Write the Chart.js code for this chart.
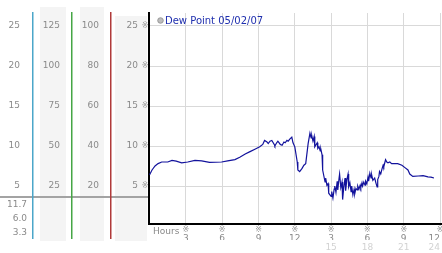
<!DOCTYPE html>
<html lang="en">
<head>
<meta charset="UTF-8" />
<title>Dew Point 05/02/07</title>
<script src="https://cdn.jsdelivr.net/npm/chart.js"></script>
<style>
  html, body { margin: 0; padding: 0; background: #fff; }
  #wrap { width: 442px; height: 253px; }
</style>
</head>
<body>
<div id="wrap"><canvas id="dewChart" width="442" height="253"></canvas></div>
<script>
  // readings (hour of day, dew point)
  const hours = [0.0,0.2,0.45,0.7,1.0,1.5,1.85,2.2,2.65,3.15,3.75,4.3,4.95,5.95,6.45,7.05,7.45,7.9,8.3,8.7,
    9.1,9.35,9.5,9.7,9.8,9.95,10.1,10.3,10.35,10.5,10.6,10.8,10.95,11.1,11.2,11.35,11.45,11.6,11.75,11.85,
    12.0,12.2,12.25,12.4,12.6,12.75,12.9,13.1,13.25,13.35,13.4,13.5,13.6,13.65,13.85,13.9,14.0,14.1,14.15,14.25,
    14.3,14.5,14.55,14.65,14.75,14.8,15.0,15.05,15.15,15.25,15.3,15.4,15.5,15.55,15.65,15.7,15.8,15.9,15.95,16.05,
    16.15,16.2,16.3,16.4,16.45,16.55,16.65,16.7,16.8,16.9,16.95,17.05,17.15,17.2,17.3,17.4,17.45,17.55,17.6,17.7,
    17.8,17.85,17.95,18.05,18.1,18.2,18.3,18.35,18.45,18.6,18.7,18.8,18.85,18.95,19.0,19.1,19.2,19.3,19.35,19.45,
    19.5,19.6,19.7,19.85,20.0,20.5,20.85,21.1,21.35,21.5,21.75,22.2,22.6,23.0,23.25,23.5];
  const dewPoint = [6.4,7.0,7.5,7.8,8.0,8.0,8.2,8.1,7.9,8.0,8.2,8.15,7.95,8.0,8.15,8.3,8.6,9.0,9.3,9.6,
    9.9,10.2,10.7,10.5,10.3,10.6,10.7,10.2,10.0,10.4,10.6,10.2,10.1,10.5,10.4,10.7,10.6,10.9,11.1,10.4,
    9.9,8.0,7.0,6.8,7.2,7.6,7.8,10.3,11.6,11.0,11.3,10.6,11.2,9.9,10.4,9.7,9.9,9.4,9.6,8.9,
    7.0,5.5,6.0,5.1,5.3,4.1,3.7,4.3,3.5,4.6,5.0,4.2,5.6,4.5,5.9,6.5,4.8,5.5,3.3,4.9,
    6.0,4.4,5.8,6.5,4.9,5.4,4.3,5.0,3.9,4.6,4.0,4.7,4.5,5.0,4.6,5.1,4.8,5.4,5.0,5.5,
    5.1,5.6,5.3,6.1,5.6,6.6,6.0,6.4,5.7,6.0,5.4,4.9,5.8,6.2,6.8,6.5,7.1,7.6,7.4,8.0,
    8.3,8.0,7.9,8.0,7.8,7.8,7.6,7.3,7.0,6.5,6.2,6.25,6.3,6.15,6.1,6.0];

  const seriesLabel = 'Dew Point 05/02/07';
  const dewTicks = [5, 10, 15, 20, 25];
  const col2Ticks = [25, 50, 75, 100, 125];
  const col3Ticks = [20, 40, 60, 80, 100];
  const hourTicks = [0, 3, 6, 9, 12, 15, 18, 21, 24];
  const hourLabels = ['', '3', '6', '9', '12', '3', '6', '9', '12'];
  const dayTicks = [0, 15, 18, 21, 24];
  const dayLabels = ['', '15', '18', '21', '24'];
  const statLabels = ['11.7', '6.0', '3.3'];

  const tickFont = { family: 'DejaVu Sans', size: 9 };
  const gray = '#8a8a8a';

  function fixed(width, height) {
    return function (s) {
      if (width) s.width = width;
      if (height) s.height = height;
      s.paddingTop = 0; s.paddingBottom = 0; s.paddingLeft = 0; s.paddingRight = 0;
    };
  }
  function useTicks(arr) {
    return function (s) { s.ticks = arr.map(v => ({ value: v })); };
  }
  function sideAxis(ticks, factor, width, weight, pad) {
    return {
      position: 'left', weight: weight,
      min: 0.25 * factor, max: 26.625 * factor,
      afterBuildTicks: useTicks(ticks), afterFit: fixed(width),
      grid: { display: false, drawTicks: false }, border: { display: false },
      ticks: { autoSkip: false, padding: pad, color: gray, font: tickFont }
    };
  }

  const panels = {
    id: 'panels',
    beforeDraw(chart) {
      const ctx = chart.ctx, s = chart.scales;
      ctx.save();
      ctx.fillStyle = '#f4f4f4';
      ctx.fillRect(s.yB.left + 7, 7, 26, 234);
      ctx.fillRect(s.yC.left + 8, 7, 24, 234);
      ctx.fillRect(s.y.left + 4, 16, 32, 225);
      ctx.restore();
    },
    afterDraw(chart) {
      const ctx = chart.ctx, s = chart.scales, area = chart.chartArea;
      ctx.save();
      // grey divider across the label columns
      ctx.fillStyle = '#a3a3a3';
      ctx.fillRect(0, 196, area.left - 1, 2);
      // coloured column rules
      [[s.yA, '#4ba6c9'], [s.yB, '#46a646'], [s.yC, '#b03a3a']].forEach(([sc, c]) => {
        ctx.fillStyle = c;
        ctx.fillRect(Math.round(sc.right) - 1, 12, 1.5, 227);
      });
      // summary values under the first column
      ctx.font = '9px DejaVu Sans';
      ctx.fillStyle = gray;
      ctx.textAlign = 'right';
      ctx.textBaseline = 'middle';
      statLabels.forEach((t, i) => ctx.fillText(t, 27, 204.5 + i * 14));
      // small tick marks
      ctx.font = '8px DejaVu Sans';
      ctx.fillStyle = '#9a9a9a';
      ctx.textAlign = 'center';
      dewTicks.forEach(v => ctx.fillText('\u203B', area.left - 4, s.y.getPixelForValue(v)));
      hourTicks.forEach((v, i) => {
        if (hourLabels[i]) ctx.fillText('\u203B', s.x.getPixelForValue(v), 230);
      });
      // axis caption
      ctx.font = '9px DejaVu Sans';
      ctx.fillStyle = gray;
      ctx.textAlign = 'left';
      ctx.fillText('Hours', area.left + 4, 232);
      // legend
      ctx.beginPath();
      ctx.arc(area.left + 11.5, 20.5, 2.8, 0, Math.PI * 2);
      ctx.fillStyle = '#bdbdbd';
      ctx.fill();
      ctx.strokeStyle = '#8c8c8c';
      ctx.lineWidth = 0.8;
      ctx.stroke();
      ctx.font = '10px DejaVu Sans';
      ctx.fillStyle = '#1f2fae';
      ctx.textBaseline = 'middle';
      ctx.fillText(chart.data.datasets[0].label, area.left + 16, 21);
      ctx.restore();
    }
  };

  new Chart(document.getElementById('dewChart'), {
    type: 'line',
    data: {
      datasets: [{
        label: seriesLabel,
        data: hours.map((h, i) => ({ x: h, y: dewPoint[i] })),
        borderColor: '#12129c',
        borderWidth: 1.2,
        pointRadius: 0,
        tension: 0,
        fill: false,
        xAxisID: 'x',
        yAxisID: 'y'
      }]
    },
    options: {
      responsive: false,
      animation: false,
      events: [],
      layout: { padding: { top: 13, right: 1, left: 0, bottom: 0 } },
      plugins: { legend: { display: false }, tooltip: { enabled: false } },
      scales: {
        x: {
          type: 'linear', position: 'bottom', weight: 0,
          min: -0.05, max: 24.08,
          afterBuildTicks: useTicks(hourTicks), afterFit: fixed(0, 16),
          grid: { color: '#d9d9d9', drawTicks: false },
          border: { color: '#000', width: 2 },
          ticks: {
            autoSkip: false, maxRotation: 0, align: 'inner', padding: 9, color: gray, font: tickFont,
            callback: (v, i) => hourLabels[i]
          }
        },
        x2: {
          type: 'linear', position: 'bottom', weight: 1,
          min: -0.05, max: 24.08,
          afterBuildTicks: useTicks(dayTicks), afterFit: fixed(0, 13),
          grid: { display: false, drawTicks: false }, border: { display: false },
          ticks: {
            autoSkip: false, maxRotation: 0, align: 'inner', padding: 2, color: '#d2d2d2', font: tickFont,
            callback: (v, i) => dayLabels[i]
          }
        },
        y: {
          position: 'left', weight: 0,
          min: 0.25, max: 26.625,
          afterBuildTicks: useTicks(dewTicks), afterFit: fixed(38),
          grid: { color: '#d9d9d9', drawTicks: false },
          border: { color: '#000', width: 2 },
          ticks: { autoSkip: false, padding: 11, color: gray, font: tickFont }
        },
        yC: sideAxis(col3Ticks, 4, 39, 1, 12),
        yB: sideAxis(col2Ticks, 5, 39, 2, 12),
        yA: sideAxis(dewTicks, 1, 33, 3, 13)
      }
    },
    plugins: [panels]
  });
</script>
</body>
</html>
